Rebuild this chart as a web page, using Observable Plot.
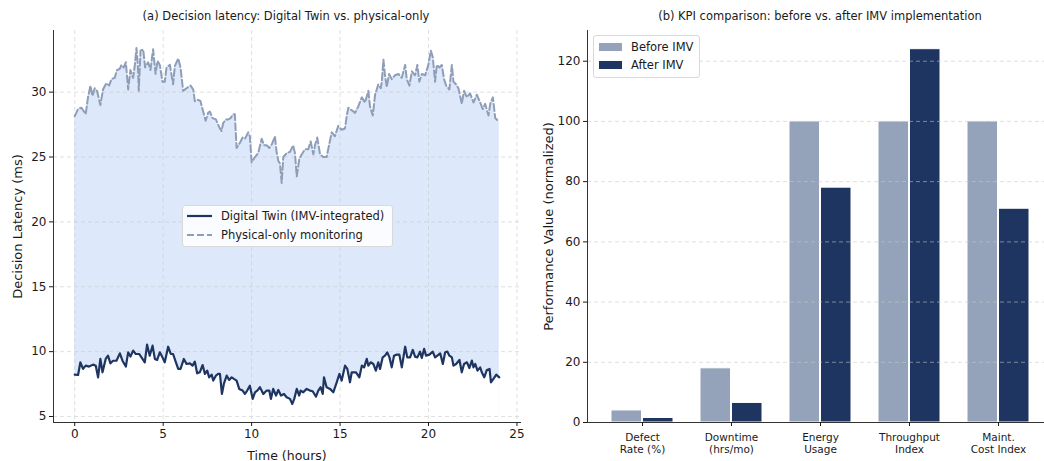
<!DOCTYPE html>
<html>
<head>
<meta charset="utf-8">
<script src="https://cdn.jsdelivr.net/npm/d3@7"></script>
<script src="https://cdn.jsdelivr.net/npm/@observablehq/plot@0.6"></script>
<style>
  html, body { margin: 0; padding: 0; background: #fff; }
  #wrap { position: relative; width: 1044px; height: 461px; overflow: hidden; font-family: "DejaVu Sans", sans-serif; color: #1a1a1a; }
  .panel { position: absolute; top: 0; height: 461px; }
  .panel svg { max-width: none !important; display: block; }
  .title { position: absolute; top: 9px; font-size: 11.5px; white-space: nowrap; transform: translateX(-50%); }
  .legend { position: absolute; background: rgba(255,255,255,0.85); border: 1px solid #d9d9d9; border-radius: 3px; font-size: 11.5px; }
  .legend .row { position: absolute; display: flex; align-items: center; white-space: nowrap; }
  .legend svg { display: block; }
</style>
</head>
<body>
<div id="wrap">
  <div id="left" class="panel" style="left:0; width:530px"></div>
  <div id="right" class="panel" style="left:530px; width:523px"></div>
  <div class="title" style="left:286px">(a) Decision latency: Digital Twin vs. physical-only</div>
  <div class="title" style="left:820px">(b) KPI comparison: before vs. after IMV implementation</div>
  <div class="legend" id="legA" style="left:182px; top:205px; width:209px; height:40px;"></div>
  <div class="legend" id="legB" style="left:593px; top:35px; width:105px; height:41px;"></div>
</div>
<script>
// ---------- Panel (a) data ----------
const physTime = [0,0.19,0.38,0.62,0.75,0.89,1.00,1.13,1.26,1.45,
  1.60,1.79,1.94,2.08,2.26,2.39,2.55,2.64,2.77,2.89,
  3.02,3.15,3.30,3.40,3.49,3.57,3.62,3.72,3.87,3.98,
  4.15,4.28,4.43,4.57,4.68,4.81,4.96,5.09,5.19,5.38,
  5.56,5.66,5.85,5.98,6.13,6.32,6.55,6.70,6.79,6.98,
  7.11,7.26,7.40,7.54,7.64,7.79,7.98,8.17,8.30,8.39,
  8.55,8.68,8.81,8.96,9.05,9.15,9.34,9.49,9.62,9.81,
  9.90,10.00,10.19,10.37,10.57,10.70,10.85,11.00,11.15,11.32,
  11.41,11.51,11.60,11.70,11.79,11.98,12.17,12.35,12.45,12.55,
  12.69,12.83,13.02,13.20,13.34,13.49,13.58,13.71,13.87,14.05,
  14.24,14.39,14.53,14.71,14.90,15.09,15.28,15.38,15.47,15.66,
  15.85,16.03,16.23,16.41,16.60,16.69,16.85,16.98,17.16,17.30,
  17.36,17.45,17.54,17.64,17.77,17.92,18.11,18.30,18.49,18.68,
  18.77,18.92,19.06,19.24,19.37,19.48,19.62,19.81,19.99,20.13,
  20.24,20.37,20.47,20.62,20.75,20.88,21.00,21.18,21.32,21.41,
  21.56,21.69,21.88,22.01,22.17,22.35,22.54,22.73,22.92,23.07,
  23.20,23.39,23.49,23.64,23.77,24.00];
const physLatency = [28.15,28.7,28.8,28.3,29.6,30.5,29.7,30.3,30.1,29.0,
  30.2,30.7,30.5,31.0,31.1,31.7,31.8,32.1,31.9,32.3,
  30.2,31.7,31.1,32.1,33.4,32.1,30.1,33.2,33.3,31.9,
  32.3,31.7,33.3,31.4,32.4,32.1,30.8,30.8,31.9,32.1,
  30.6,32.0,32.6,31.9,30.1,30.3,30.5,30.2,29.3,29.4,
  29.3,28.5,27.8,28.4,28.5,28.0,27.9,27.3,27.0,27.6,
  27.9,27.9,28.0,28.3,28.3,25.7,26.1,26.5,26.4,26.9,
  26.6,24.6,25.0,25.3,26.4,25.9,25.9,25.7,26.0,26.6,
  25.4,24.7,24.5,23.0,25.0,25.3,25.4,25.9,25.3,23.5,
  24.8,25.2,25.6,25.6,26.2,25.2,25.9,26.5,25.2,25.0,
  25.0,26.0,26.9,26.6,27.4,27.1,27.2,28.2,28.8,28.6,
  28.4,28.9,29.6,29.2,30.1,28.9,28.2,29.8,30.6,30.3,
  30.8,32.5,31.3,30.4,31.4,31.0,31.3,31.4,31.1,32.1,
  31.0,30.5,31.6,31.3,32.1,30.8,31.4,31.3,32.1,33.2,
  32.7,30.8,32.1,31.9,32.1,31.0,30.5,30.2,32.1,30.8,
  30.6,30.3,29.1,30.1,29.6,29.9,29.2,29.8,29.2,28.7,
  29.1,28.2,29.1,29.6,28.0,27.7];

const twinTime = [0,0.19,0.32,0.47,0.62,0.81,1.04,1.19,1.32,1.45,
  1.57,1.75,1.88,2.02,2.17,2.36,2.55,2.70,2.89,3.02,
  3.15,3.30,3.45,3.64,3.83,3.96,4.09,4.24,4.40,4.53,
  4.66,4.81,4.96,5.09,5.28,5.43,5.56,5.72,5.85,5.98,
  6.17,6.32,6.51,6.66,6.79,6.92,7.07,7.23,7.36,7.49,
  7.60,7.74,7.83,7.98,8.11,8.21,8.32,8.43,8.59,8.73,
  8.87,9.00,9.15,9.30,9.49,9.62,9.75,9.90,10.06,10.19,
  10.32,10.47,10.66,10.85,11.00,11.09,11.22,11.38,11.51,11.66,
  11.83,11.98,12.17,12.30,12.41,12.55,12.69,
  12.77,12.92,13.11,13.30,13.45,13.64,13.77,13.90,14.02,14.09,
  14.24,14.43,14.62,14.81,14.96,15.09,15.28,15.41,15.56,15.66,
  15.79,15.90,16.09,16.23,16.36,16.51,16.60,16.73,16.88,17.02,
  17.16,17.26,17.41,17.54,17.67,17.79,17.92,18.05,18.20,18.35,
  18.49,18.68,18.80,18.96,19.11,19.24,19.37,19.52,19.62,19.75,
  19.86,20.05,20.24,20.37,20.50,20.66,20.81,20.94,21.07,21.18,
  21.32,21.41,21.56,21.75,21.88,22.01,22.17,22.31,22.45,22.54,
  22.64,22.77,22.92,23.01,23.15,23.30,23.45,23.53,23.67,23.83,24.00];
const twinLatency = [8.23,8.2,9.18,8.67,8.92,8.85,9.0,8.92,8.02,9.44,
  8.41,9.44,9.69,9.1,9.3,9.3,9.87,9.3,8.85,9.95,
  9.62,10.08,9.82,9.82,9.44,9.18,10.54,9.69,10.46,9.44,
  9.36,9.95,9.56,9.18,10.38,9.82,9.82,9.18,8.67,8.67,
  9.44,9.05,9.1,8.92,9.23,8.33,8.41,8.97,8.28,8.54,
  8.02,8.23,7.77,8.15,8.28,8.28,6.74,7.51,8.15,7.82,
  8.02,7.9,7.77,7.13,7.0,6.74,7.0,7.38,6.36,6.87,
  7.0,7.26,6.74,7.0,7.0,6.36,7.13,6.62,7.05,6.62,
  6.74,6.49,6.36,5.97,6.36,7.13,6.62,
  7.0,6.87,7.13,7.0,6.95,6.54,7.0,7.26,6.74,8.02,
  7.26,7.13,6.87,7.64,8.28,7.77,8.92,8.67,7.64,8.41,
  8.41,8.41,8.02,8.92,8.79,9.44,8.92,9.18,9.05,8.54,
  9.18,8.67,9.56,9.69,9.95,9.56,8.79,9.69,9.77,9.77,
  8.79,10.38,9.56,9.56,10.13,9.62,9.56,10.0,9.51,10.21,
  9.69,9.77,10.0,9.56,9.69,9.87,9.05,9.95,10.0,9.69,
  9.56,8.92,9.05,9.36,8.41,9.05,9.18,8.74,9.31,8.79,
  9.05,8.54,8.79,8.41,8.02,8.59,8.67,7.64,7.9,8.23,8.02];

const timeTicks = [0, 5, 10, 15, 20, 25];
const latencyTicks = [5, 10, 15, 20, 25, 30];
const seriesNames = ["Digital Twin (IMV-integrated)", "Physical-only monitoring"];

// ---------- Panel (b) data ----------
const kpiCategories = ["Defect\nRate (%)", "Downtime\n(hrs/mo)", "Energy\nUsage", "Throughput\nIndex", "Maint.\nCost Index"];
const beforeIMV = [4, 18, 100, 100, 100];
const afterIMV = [1.5, 6.5, 78, 124, 71];
const groupNames = ["Before IMV", "After IMV"];
const kpiTicks = [0, 20, 40, 60, 80, 100, 120];

// ---------- colours ----------
const cTwin = "#1f3561";
const cPhys = "#8e9eb9";
const cFill = "#dde9fa";
const cBefore = "#94a3ba";
const cAfter = "#1f3561";
const cGrid = "#c8c8c8";

const phys = physTime.map((t, i) => ({t, v: physLatency[i]}));
const twin = twinTime.map((t, i) => ({t, v: twinLatency[i]}));

const yMin = 4.54, yMax = 34.75;
const baseStyle = {fontFamily: "DejaVu Sans, sans-serif", fontSize: "12px", color: "#1a1a1a", background: "transparent", maxWidth: "none"};

const left = Plot.plot({
  width: 530, height: 461,
  marginLeft: 53, marginRight: 10, marginTop: 30, marginBottom: 39,
  style: baseStyle,
  x: {domain: [-1.2, 25.2]},
  y: {domain: [yMin, yMax]},
  marks: [
    Plot.areaY(phys, {x: "t", y1: yMin, y2: "v", fill: cFill}),
    Plot.areaY(twin, {x: "t", y1: yMin, y2: "v", fill: "white"}),
    Plot.gridX(timeTicks, {stroke: cGrid, strokeOpacity: 0.7, strokeDasharray: "4,3", strokeWidth: 0.8}),
    Plot.gridY(latencyTicks, {stroke: cGrid, strokeOpacity: 0.7, strokeDasharray: "4,3", strokeWidth: 0.8}),
    Plot.line(phys, {x: "t", y: "v", stroke: cPhys, strokeWidth: 2, strokeDasharray: "7,3"}),
    Plot.line(twin, {x: "t", y: "v", stroke: cTwin, strokeWidth: 2.2}),
    Plot.frame({anchor: "left", stroke: "#333"}),
    Plot.frame({anchor: "bottom", stroke: "#333"}),
    Plot.axisX(timeTicks, {tickSize: 4, tickPadding: 3, label: null}),
    Plot.axisX({label: "Time (hours)", labelAnchor: "center", labelArrow: "none", labelOffset: 37, fontSize: 12.5, ticks: []}),
    Plot.axisY(latencyTicks, {tickSize: 4, tickPadding: 3, label: null}),
    Plot.axisY({label: "Decision Latency (ms)", labelAnchor: "center", labelArrow: "none", labelOffset: 41, fontSize: 13, ticks: []})
  ]
});
document.getElementById("left").appendChild(left);

const kpi = [];
kpiCategories.forEach((c, i) => {
  kpi.push({cat: c, group: groupNames[0], value: beforeIMV[i]});
  kpi.push({cat: c, group: groupNames[1], value: afterIMV[i]});
});

const right = Plot.plot({
  width: 523, height: 461,
  marginLeft: 57, marginRight: 0, marginTop: 30, marginBottom: 39,
  style: baseStyle,
  x: {type: "band", domain: kpiCategories, paddingInner: 0.3, paddingOuter: 0.239},
  y: {domain: [0, 130.2]},
  marks: [
    Plot.barY(kpi.filter(d => d.group === groupNames[0]), {x: "cat", y: "value", fill: cBefore, stroke: "white", strokeWidth: 1, insetRight: 31.5}),
    Plot.barY(kpi.filter(d => d.group === groupNames[1]), {x: "cat", y: "value", fill: cAfter, stroke: "white", strokeWidth: 1, insetLeft: 31.5}),
    Plot.gridY(kpiTicks.slice(1), {stroke: cGrid, strokeOpacity: 0.7, strokeDasharray: "4,3", strokeWidth: 0.8}),
    Plot.frame({anchor: "left", stroke: "#333"}),
    Plot.frame({anchor: "bottom", stroke: "#333"}),
    Plot.axisX({tickSize: 4, tickPadding: 6, fontSize: 10.5, lineHeight: 1.12, label: null}),
    Plot.axisY(kpiTicks, {tickSize: 4, tickPadding: 3, label: null}),
    Plot.axisY({label: "Performance Value (normalized)", labelAnchor: "center", labelArrow: "none", labelOffset: 44, fontSize: 13, ticks: []})
  ]
});
document.getElementById("right").appendChild(right);

// ---------- legends (HTML) ----------
function legendRow(parent, top, left, swatch, text) {
  const row = document.createElement("div");
  row.className = "row";
  row.style.top = top + "px";
  row.style.left = left + "px";
  row.innerHTML = swatch + `<span style="margin-left:9px">${text}</span>`;
  parent.appendChild(row);
}
const legA = document.getElementById("legA");
legendRow(legA, 3, 4, `<svg width="25" height="14"><line x1="0" x2="25" y1="7" y2="7" stroke="${cTwin}" stroke-width="2.2"/></svg>`, seriesNames[0]);
legendRow(legA, 22, 4, `<svg width="25" height="14"><line x1="0" x2="25" y1="7" y2="7" stroke="${cPhys}" stroke-width="2" stroke-dasharray="7,3"/></svg>`, seriesNames[1]);
const legB = document.getElementById("legB");
legendRow(legB, 4, 5, `<svg width="23" height="14"><rect x="0" y="3" width="23" height="8" fill="${cBefore}"/></svg>`, groupNames[0]);
legendRow(legB, 22, 5, `<svg width="23" height="14"><rect x="0" y="3" width="23" height="8" fill="${cAfter}"/></svg>`, groupNames[1]);
</script>
</body>
</html>
